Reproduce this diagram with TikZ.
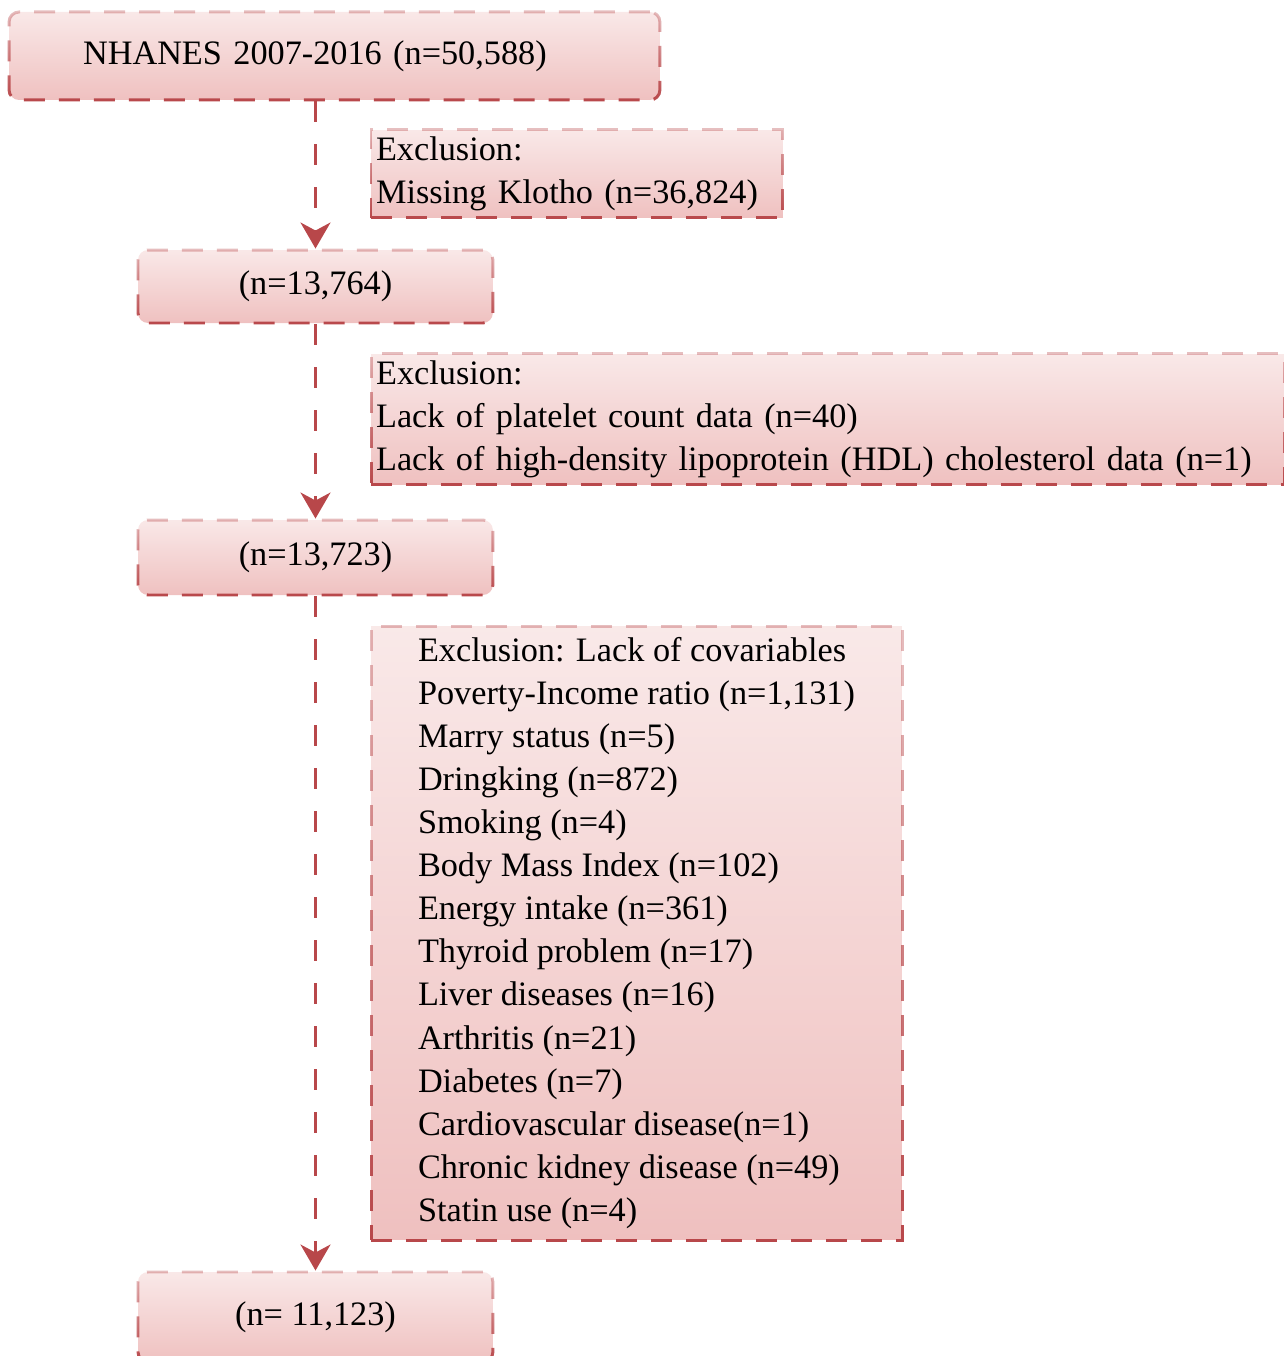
\documentclass[tikz,border=0pt]{standalone}
\usepackage{fontspec}
\setmainfont{Liberation Serif}
\usetikzlibrary{positioning, arrows.meta, fadings}
\definecolor{exred}{HTML}{B8474A}
\definecolor{expink}{RGB}{239,192,191}
\tikzfading[name=fadeup, top color=transparent!65, bottom color=transparent!0]

\begin{document}
\begin{tikzpicture}[x=0.02cm, y=-0.02cm,
      font=\fontsize{19.5}{24.5}\selectfont, inner sep=0pt,
      box/.style={draw=exred, fill=expink, line width=1.7pt,
        dash pattern=on 0.42cm off 0.28cm, path fading=fadeup},
      count/.style={box, rounded corners=0.2cm, minimum width=7.1cm},
      excl/.style={box, align=left, inner xsep=0.1cm},
      flow/.style={draw=exred, line width=1.6pt, dash pattern=on 0.42cm off 0.44cm,
        -{Stealth[length=0.52cm, width=0.6cm, inset=0.16cm]}}]
      \useasboundingbox (0,0) rectangle (1284,1356);
      \clip (0,0) rectangle (1284,1356);
      % counts;
      \node[box, rounded corners=0.2cm, minimum width=13.02cm, minimum height=1.76cm,
        inner xsep=1.48cm, text width=10.06cm, align=left]
        (nhanes) at(334.5,56) {NHANES 2007-2016 (n=50,588)};
      \node[count, minimum height=1.46cm] (n1) at(315.5,286.5) {(n=13,764)};
      \node[count, minimum height=1.5cm] (n2) at(315.5,557.5) {(n=13,723)};
      \node[count, minimum height=1.8cm] (n3) at(315.5,1317) {(n= 11,123)};
      % exclusions;
      \node[excl, text width=8.04cm, minimum height=1.76cm] (ex1) at(577,174)
        {Exclusion:\\Missing Klotho (n=36,824)};
      \node[excl, text width=18.06cm, minimum height=2.62cm] (ex2) at(827.5,419.5)
        {Exclusion:\\Lack of platelet count data (n=40)\\
         Lack of high-density lipoprotein (HDL) cholesterol data (n=1)};
      \node[excl, minimum width=10.62cm, minimum height=12.28cm] (ex3) at(636.5,933)
        {Exclusion: Lack of covariables\\
         Poverty-Income ratio (n=1,131)\\
         Marry status (n=5)\\
         Dringking (n=872)\\
         Smoking (n=4)\\
         Body Mass Index (n=102)\\
         Energy intake (n=361)\\
         Thyroid problem (n=17)\\
         Liver diseases (n=16)\\
         Arthritis (n=21)\\
         Diabetes (n=7)\\
         Cardiovascular disease(n=1)\\
         Chronic kidney disease (n=49)\\
         Statin use (n=4)};
      % flow;
      \draw[flow] (n1.north |- nhanes.south) -- (n1.north);
      \draw[flow] (n1.south) -- (n2.north);
      \draw[flow] (n2.south) -- (n3.north);
\end{tikzpicture}
\end{document}
